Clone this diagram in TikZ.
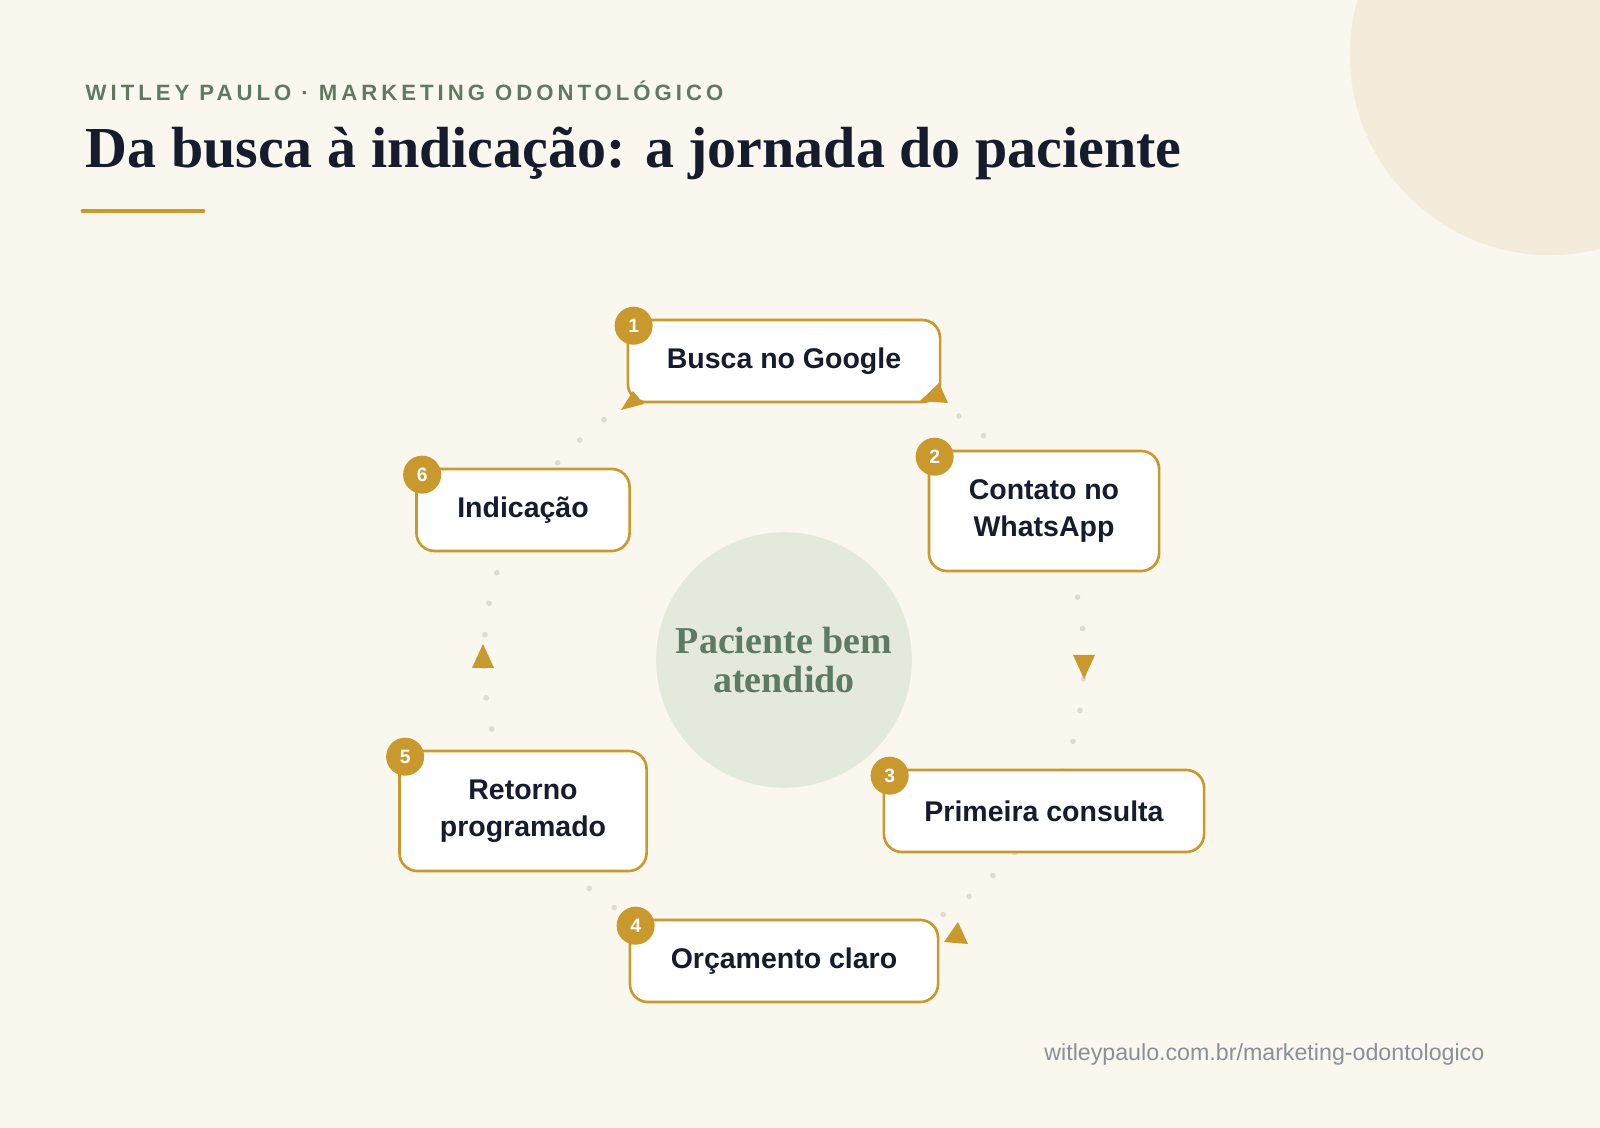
\documentclass[tikz,border=0pt]{standalone}
\usepackage{fontspec}
\setmainfont{Liberation Serif}
\setsansfont{Liberation Sans}
\usetikzlibrary{positioning}
\definecolor{paper}{HTML}{FAF7EE}
\definecolor{blob}{HTML}{F3ECDC}
\definecolor{gold}{HTML}{C9992E}
\definecolor{sage}{HTML}{5E7A62}
\definecolor{ink}{HTML}{161B2E}
\definecolor{ring}{HTML}{DEDBD0}
\definecolor{hub}{HTML}{E3EADC}
\definecolor{urlgray}{HTML}{8A8F98}
\newfontfamily\kickerfont[LetterSpace=18]{Liberation Sans}

\begin{document}
\begin{tikzpicture}[
                x=0.01cm, y=-0.01cm,
                step/.style = {
                    draw = gold,
                    fill = white,
                    line width = 0.75pt,
                    rounded corners = 0.18cm,
                    minimum width = #1,
                    align = center,
                    font = \sffamily\bfseries\fontsize{8.1}{10.6}\selectfont,
                    text = ink
                },
                badge/.style = {
                    circle,
                    fill = gold,
                    minimum size = 0.38cm,
                    inner sep = 0pt,
                    text = white,
                    font = \sffamily\bfseries\fontsize{5.5}{6}\selectfont
                }
            ]
            \fill[paper] (0,0) rectangle (1600,1128);
            \useasboundingbox (0,0) rectangle (1600,1128);
            \fill[blob] (1550,55) circle (2cm);
            % 
            \node[anchor=base west, inner sep=0pt, text=sage, font=\kickerfont\bfseries\fontsize{6.3}{8}\selectfont] (kicker) at (85,101) {WITLEY PAULO · MARKETING ODONTOLÓGICO};
            \node[anchor=base west, inner sep=0pt, text=ink, font=\bfseries\fontsize{16.5}{20}\selectfont] (title) at (85,168) {Da busca à indicação: a jornada do paciente};
            \draw[gold, line width=1.4pt, line cap=round] (83,211) -- (203,211);
            % 
            \draw[ring, line width=1.6pt, dash pattern=on 0pt off 9pt, line cap=round] (784,660) circle (3cm);
            \node[circle, fill=hub, minimum size=2.5cm, text=sage, align=center, font=\bfseries\fontsize{10.8}{11.2}\selectfont] (hub) at (784,660) {Paciente bem\\atendido};
            % 
            \node[step=3.12cm, minimum height=0.82cm] (s1) at (784,361) {Busca no Google};
            \node[step=2.30cm, minimum height=1.20cm] (s2) at (1044,511) {Contato no\\WhatsApp};
            \node[step=3.20cm, minimum height=0.82cm] (s3) at (1044,811) {Primeira consulta};
            \node[step=3.08cm, minimum height=0.82cm] (s4) at (784,961) {Orçamento claro};
            \node[step=2.47cm, minimum height=1.20cm] (s5) at (523,811) {Retorno\\programado};
            \node[step=2.13cm, minimum height=0.82cm] (s6) at (523,510) {Indicação};
            % 
            \foreach \n in {1,...,6}
                \node[badge] (b\n) at ([xshift=2, yshift=-2]s\n.north west) {\n};
            % 
            \fill[gold] (920,401) -- ++(28,2) -- ++(-9,-20) -- cycle;
            \fill[gold] (1084,679) -- ++(-11,-24) -- ++(22,0) -- cycle;
            \fill[gold] (958,922) -- ++(10,22) -- ++(-24,-2) -- cycle;
            \fill[gold] (483,644) -- ++(11,24) -- ++(-22,0) -- cycle;
            \fill[gold] (644,404) -- ++(-23,6) -- ++(12,-19) -- cycle;
            % 
            \node[anchor=base east, inner sep=0pt, text=urlgray, font=\sffamily\fontsize{6.6}{9}\selectfont] (url) at (1485,1060) {witleypaulo.com.br/marketing-odontologico};
        \end{tikzpicture}
\end{document}
